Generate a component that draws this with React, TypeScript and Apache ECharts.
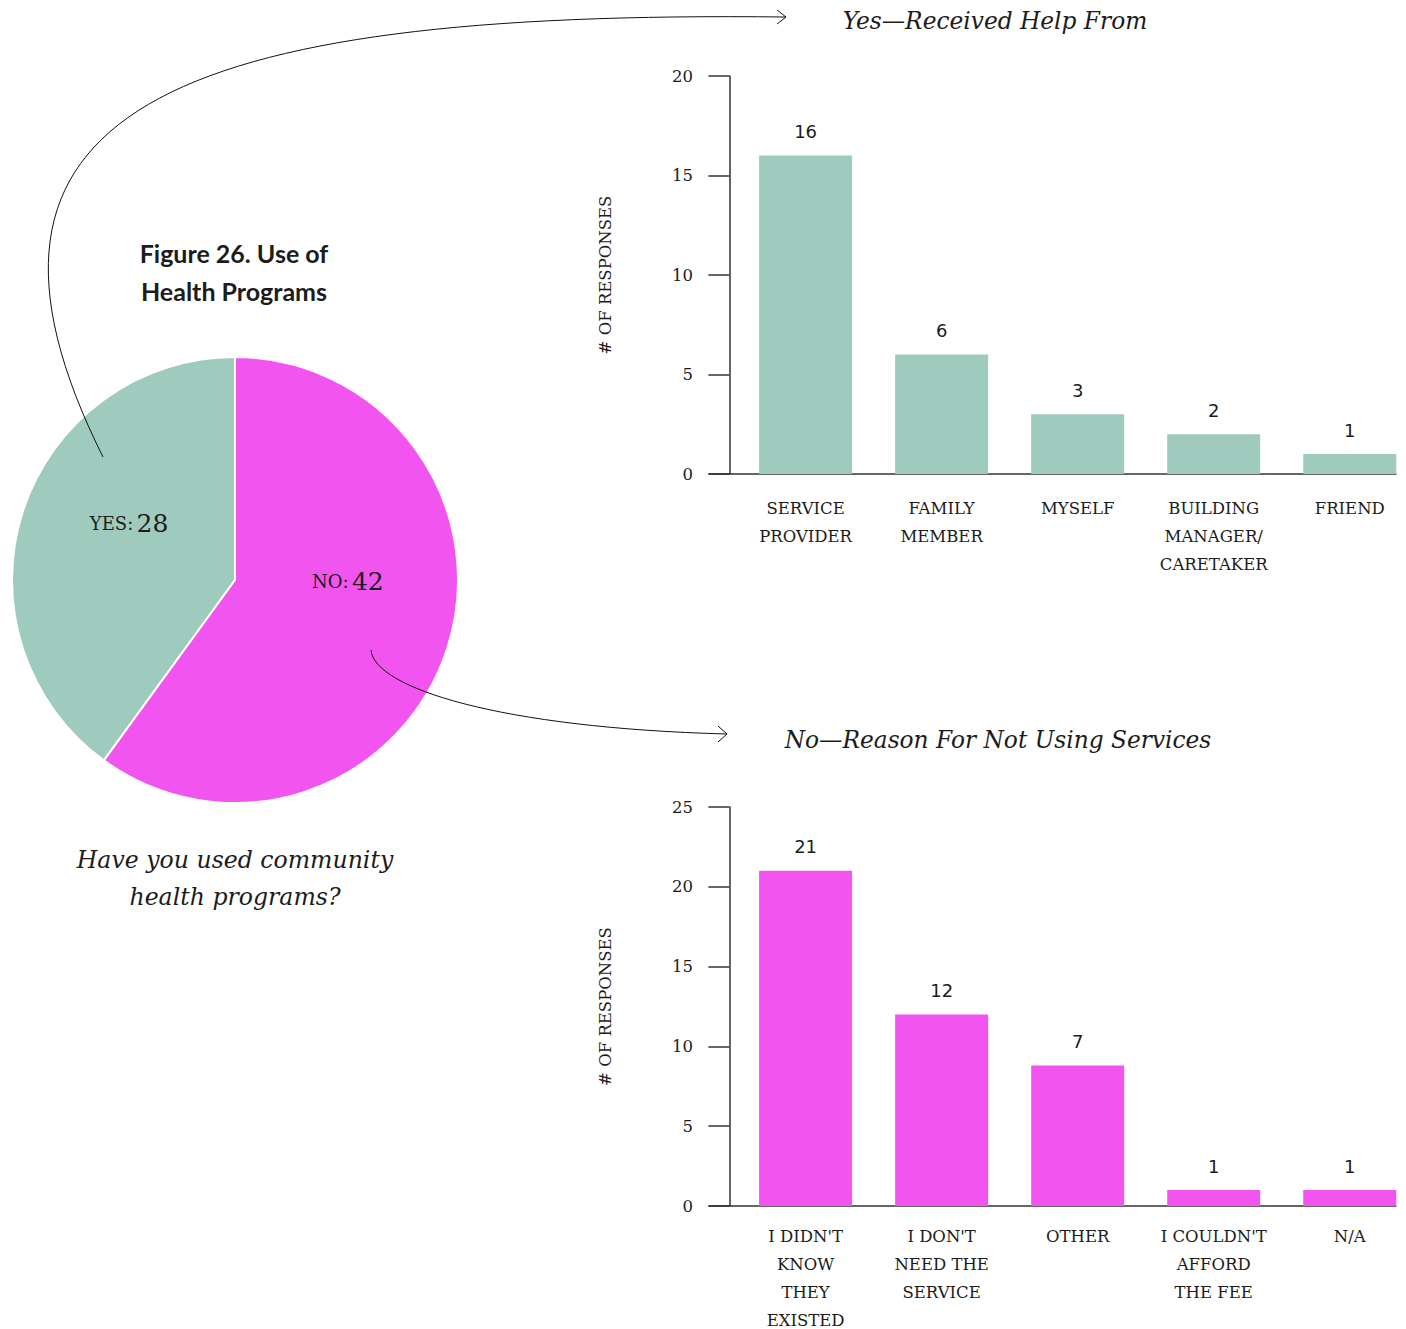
import React, { useEffect, useRef } from "react";
import * as echarts from "echarts";

// ---------- data ----------
const PIE_NAMES = ["Yes", "No"];
const PIE_VALUES = [28, 42];

const YES_CATEGORIES = [
  "SERVICE\nPROVIDER",
  "FAMILY\nMEMBER",
  "MYSELF",
  "BUILDING\nMANAGER/\nCARETAKER",
  "FRIEND",
];
const YES_VALUES = [16, 6, 3, 2, 1];
const YES_LABELS = ["16", "6", "3", "2", "1"];

const NO_CATEGORIES = [
  "I DIDN'T\nKNOW\nTHEY\nEXISTED",
  "I DON'T\nNEED THE\nSERVICE",
  "OTHER",
  "I COULDN'T\nAFFORD\nTHE FEE",
  "N/A",
];
// bar heights as drawn in the picture ("Other" is drawn near 8.8 while labelled 7)
const NO_VALUES = [21, 12, 8.8, 1, 1];
const NO_LABELS = ["21", "12", "7", "1", "1"];

const YES_TICKS_MAX = 20;
const NO_TICKS_MAX = 25;
const TICK_STEP = 5;

// ---------- style ----------
const TEAL = "#9ECBBE";
const PINK = "#F255EF";
const INK = "#1c1c1c";
const AXIS = "#333333";
const SERIF = "'DejaVu Serif', serif";
const SANS = "'DejaVu Sans', sans-serif";
const BAND_OFFSET = 0.56;
const X_MIN = -0.15;
const X_MAX = 4.9;

function makeXAxis(gridIndex: number, cats: string[], margin: number) {
  return {
    type: "value",
    gridIndex,
    min: X_MIN,
    max: X_MAX,
    axisLine: { show: true, onZero: true, lineStyle: { color: AXIS, width: 1.5 } },
    axisTick: { show: false },
    splitLine: { show: false },
    axisLabel: {
      customValues: cats.map((_, i) => i + BAND_OFFSET),
      formatter: (v: number) => {
        const idx = Math.round(v - BAND_OFFSET);
        return cats[idx] ?? "";
      },
      margin,
      fontFamily: SERIF,
      fontSize: 16.5,
      lineHeight: 28,
      color: INK,
      align: "center",
      verticalAlign: "top",
    },
  };
}

function makeYAxis(gridIndex: number, max: number) {
  return {
    type: "value",
    gridIndex,
    min: 0,
    max,
    interval: TICK_STEP,
    name: "# OF RESPONSES",
    nameLocation: "middle",
    nameRotate: 90,
    nameGap: 95,
    nameTextStyle: { fontFamily: SERIF, fontSize: 16.5, color: INK },
    axisLine: { show: true, onZero: true, lineStyle: { color: AXIS, width: 1.5 } },
    axisTick: { show: true, length: 21, lineStyle: { color: AXIS, width: 1.5 } },
    splitLine: { show: false },
    axisLabel: {
      margin: 16,
      fontFamily: SERIF,
      fontSize: 16.5,
      color: INK,
    },
  };
}

function makeBarSeries(idx: number, values: number[], labels: string[], color: string) {
  return {
    type: "bar",
    xAxisIndex: idx,
    yAxisIndex: idx,
    barWidth: 93,
    data: values.map((v, i) => [i + BAND_OFFSET, v]),
    itemStyle: { color },
    label: {
      show: true,
      position: "top",
      distance: 15,
      fontFamily: SANS,
      fontSize: 18,
      color: INK,
      formatter: (p: any) => labels[p.dataIndex],
    },
  };
}

const PIE_LABEL_OFFSETS = [
  [3, -21],
  [4, -34],
];

export default function App() {
  const ref = useRef<HTMLDivElement>(null);

  useEffect(() => {
    document.body.style.margin = "0";
    if (!ref.current) return;
    const chart = echarts.init(ref.current, null, { renderer: "svg" });

    const option: any = {
      animation: false,
      backgroundColor: "#ffffff",
      title: [
        {
          text: "Yes—Received Help From",
          left: 990,
          top: 4,
          textAlign: "center",
          textStyle: { fontFamily: SERIF, fontStyle: "italic", fontWeight: "normal", fontSize: 23.3, color: INK },
        },
        {
          text: "No—Reason For Not Using Services",
          left: 993,
          top: 723,
          textAlign: "center",
          textStyle: { fontFamily: SERIF, fontStyle: "italic", fontWeight: "normal", fontSize: 23.3, color: INK },
        },
      ],
      grid: [
        { left: 709, top: 76, width: 687, height: 398, outerBoundsMode: "none" },
        { left: 709, top: 807, width: 687, height: 399, outerBoundsMode: "none" },
      ],
      xAxis: [makeXAxis(0, YES_CATEGORIES, 20), makeXAxis(1, NO_CATEGORIES, 16)],
      yAxis: [makeYAxis(0, YES_TICKS_MAX), makeYAxis(1, NO_TICKS_MAX)],
      series: [
        {
          type: "pie",
          center: [235, 580],
          radius: 223,
          startAngle: 90,
          clockwise: false,
          itemStyle: { borderColor: "#ffffff", borderWidth: 2 },
          label: {
            show: true,
            position: "inside",
            formatter: (p: any) => `{a|${String(p.name).toUpperCase()}:} {b|${p.value}}`,
            rich: {
              a: { fontFamily: SERIF, fontSize: 18, color: INK },
              b: { fontFamily: SERIF, fontSize: 25, color: INK },
            },
          },
          labelLine: { show: false },
          emphasis: { disabled: true },
          data: PIE_NAMES.map((name, i) => ({
            name,
            value: PIE_VALUES[i],
            itemStyle: { color: i === 0 ? TEAL : PINK },
            label: { offset: PIE_LABEL_OFFSETS[i] },
          })),
        },
        makeBarSeries(0, YES_VALUES, YES_LABELS, TEAL),
        makeBarSeries(1, NO_VALUES, NO_LABELS, PINK),
      ],
      graphic: [
        {
          type: "text",
          x: 234,
          y: 234,
          style: {
            text: "Figure 26. Use of\nHealth Programs",
            fontFamily: "Lato, sans-serif",
            fontWeight: "bold",
            fontSize: 25,
            lineHeight: 38,
            fill: INK,
            align: "center",
            verticalAlign: "top",
          },
        },
        {
          type: "text",
          x: 235,
          y: 841,
          style: {
            text: "Have you used community\nhealth programs?",
            fontFamily: SERIF,
            fontStyle: "italic",
            fontSize: 23.6,
            lineHeight: 37,
            fill: INK,
            align: "center",
            verticalAlign: "top",
          },
        },
        {
          type: "bezierCurve",
          z: 10,
          shape: { x1: 103, y1: 457, cpx1: -70, cpy1: 110, cpx2: 170, cpy2: 10, x2: 786, y2: 17 },
          style: { stroke: "#111", lineWidth: 1, fill: "none" },
        },
        {
          type: "polyline",
          z: 10,
          shape: { points: [[777, 10], [786, 17], [777, 24]] },
          style: { stroke: "#111", lineWidth: 1, fill: "none" },
        },
        {
          type: "bezierCurve",
          z: 10,
          shape: { x1: 371, y1: 650, cpx1: 374, cpy1: 688, cpx2: 500, cpy2: 728, x2: 727, y2: 734 },
          style: { stroke: "#111", lineWidth: 1, fill: "none" },
        },
        {
          type: "polyline",
          z: 10,
          shape: { points: [[718, 726], [727, 734], [718, 742]] },
          style: { stroke: "#111", lineWidth: 1, fill: "none" },
        },
      ],
    };

    chart.setOption(option);
    return () => chart.dispose();
  }, []);

  return <div ref={ref} style={{ width: 1406, height: 1329 }} />;
}
